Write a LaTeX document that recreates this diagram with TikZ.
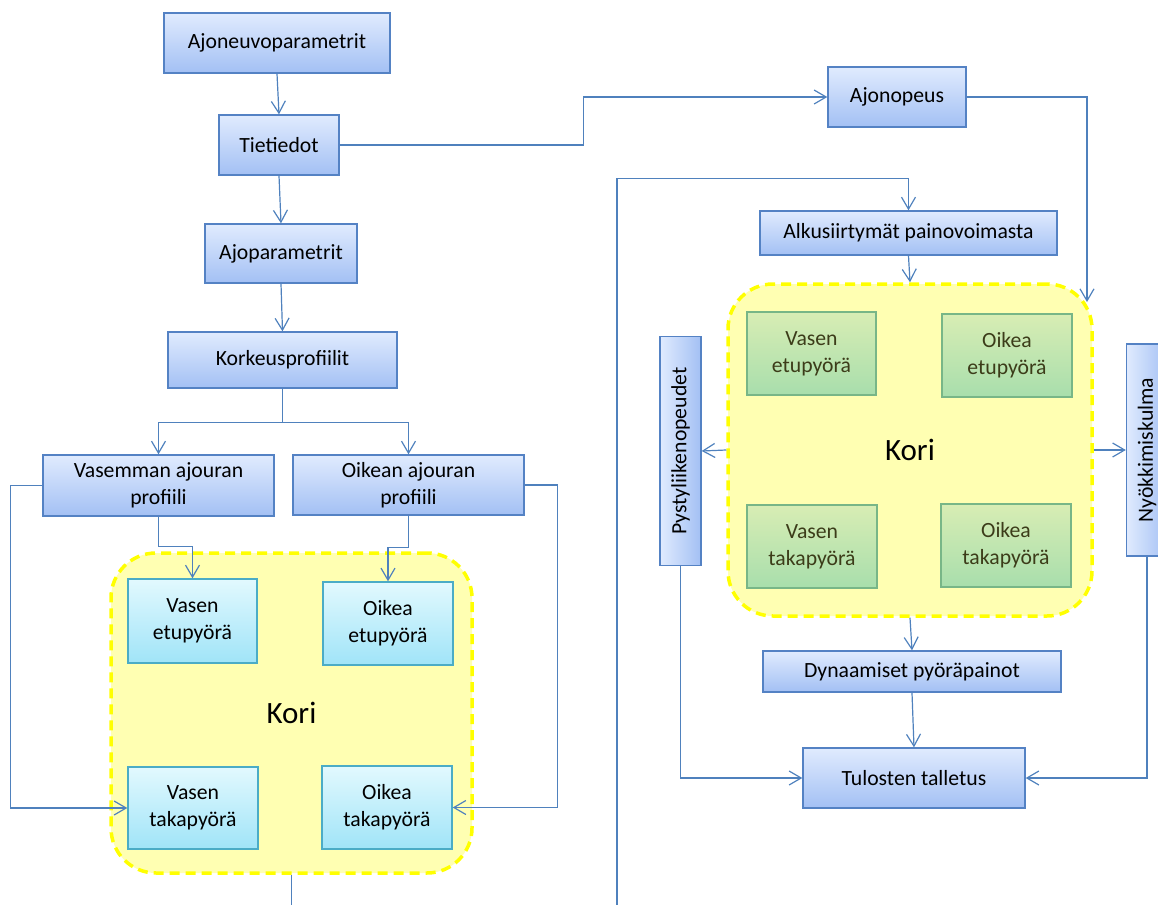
\documentclass[tikz,border=0pt]{standalone}
\usepackage{fontspec}
\setmainfont{Carlito}
\usepackage{graphicx}
\usetikzlibrary{arrows.meta,calc}
\definecolor{lnblue}{RGB}{79,129,189}
\definecolor{bdblue}{RGB}{84,130,196}
\definecolor{bltop}{RGB}{224,235,254}
\definecolor{blbot}{RGB}{163,192,244}
\definecolor{cybd}{RGB}{75,172,198}
\definecolor{cytop}{RGB}{226,249,254}
\definecolor{cybot}{RGB}{160,228,248}
\definecolor{grbd}{RGB}{120,182,135}
\definecolor{grtop}{RGB}{216,237,180}
\definecolor{grbot}{RGB}{168,222,172}
\definecolor{grtext}{RGB}{60,60,25}
\definecolor{yelfill}{RGB}{255,255,178}
\definecolor{yelline}{RGB}{255,255,0}
\newcommand\mainfs{\fontsize{10.85}{13.3}\selectfont}
\newcommand\korifs{\fontsize{15.5}{18}\selectfont}
\begin{document}
\begin{tikzpicture}[x=0.5pt,y=-0.5pt,
  sz/.style 2 args={minimum width=#1*0.5pt,minimum height=#2*0.5pt},
  conn/.style={draw=lnblue,line width=0.6pt},
  arr/.style={conn,-{Straight Barb[length=6pt,width=7pt,line width=0.6pt]}},
  boxbase/.style={inner sep=0pt,align=center,font=\mainfs,line width=0.7pt},
  bluebox/.style={boxbase,draw=bdblue,top color=bltop,bottom color=blbot},
  vbox/.style={boxbase,draw=bdblue,left color=bltop,right color=blbot},
  cyanbox/.style={boxbase,draw=cybd,top color=cytop,bottom color=cybot},
  greenbox/.style={boxbase,draw=grbd,top color=grtop,bottom color=grbot,text=grtext},
  korizone/.style={draw=yelline,fill=yelfill,line width=1.75pt,dash pattern=on 5pt off 3pt,rounded corners=22.5pt,inner sep=0pt,font=\korifs}
]
\useasboundingbox (0,0) rectangle (1158,905);

% yellow zones
\node[korizone,sz={361}{320}] (kl) at (291.5,713) {Kori};
\node[korizone,sz={364}{332}] (kr) at (910,450) {Kori};

% left column
\node[bluebox,sz={226}{60}] (anp) at (277,43) {Ajoneuvoparametrit};
\node[bluebox,sz={120}{60}] (tie) at (279,145) {Tietiedot};
\node[bluebox,sz={152}{59}] (ajp) at (281,253.5) {Ajoparametrit};
\node[bluebox,sz={229}{56}] (kor) at (282.5,360) {Korkeusprofiilit};
\node[bluebox,sz={231}{61}] (vap) at (158.5,485.5) {Vasemman ajouran\\profiili};
\node[bluebox,sz={231}{60}] (oap) at (408.5,485) {Oikean ajouran\\profiili};

\node[cyanbox,sz={129}{84}] (vet) at (192.5,621) {Vasen\\etupyörä};
\node[cyanbox,sz={130}{83}] (oet) at (388,623.5) {Oikea\\etupyörä};
\node[cyanbox,sz={130}{82}] (vtk) at (193,808) {Vasen\\takapyörä};
\node[cyanbox,sz={130}{83}] (otk) at (387,807.5) {Oikea\\takapyörä};

% right column
\node[bluebox,sz={138}{60}] (ajo) at (897,97) {Ajonopeus};
\node[bluebox,sz={297}{44}] (alk) at (908.5,233) {Alkusiirtymät painovoimasta};
\node[greenbox,sz={129}{83}] (gvet) at (811.5,353.5) {Vasen\\etupyörä};
\node[greenbox,sz={130}{83}] (goet) at (1007,355.5) {Oikea\\etupyörä};
\node[greenbox,sz={130}{83}] (gvtk) at (812,546.5) {Vasen\\takapyörä};
\node[greenbox,sz={130}{83}] (gotk) at (1006,545.5) {Oikea\\takapyörä};
\node[vbox,sz={41}{229}] (pys) at (680.5,451) {\rotatebox{90}{Pystyliikenopeudet}};
\node[vbox,sz={41}{212}] (nyo) at (1147,450) {\rotatebox{90}{Nyökkimiskulma}};
\node[bluebox,sz={298}{41}] (dyn) at (912,671.5) {Dynaamiset pyöräpainot};
\node[bluebox,sz={222}{60}] (tul) at (914,778) {Tulosten talletus};

\coordinate (lb) at (291.5,905);
\coordinate (rb) at (617,905);
\coordinate (ajoin) at (1087,302);

% connectors left
\draw[arr] (anp.south) -- (tie.north);
\draw[arr] (tie.south) -- (ajp.north);
\draw[arr] (ajp.south) -- (kor.north);
\draw[arr] (kor.south) -- ++(0,34) -| (vap.north);
\draw[arr] (kor.south) -- ++(0,34) -| (oap.north);
\draw[arr] (vap.south) |- ($(vet.north)+(0,-32)$) -- (vet.north);
\draw[arr] (oap.south) |- ($(oet.north)+(0,-34)$) -- (oet.north);
\draw[arr] (vap.west) -- ++(-32,0) |- (vtk.west);
\draw[arr] (oap.east) -- ++(33,0) |- (otk.east);
\draw[conn] (kl.south) -- (lb);

% connectors right
\draw[arr] (tie.east) -- ++(244,0) |- (ajo.west);
\draw[arr] (ajo.east) -| (ajoin);
\draw[arr] (rb) |- ($(alk.north)+(0,-32)$) -- (alk.north);
\draw[arr] (alk.south) -- (kr.north);
\draw[arr] (kr.west) -- (pys.east);
\draw[arr] (kr.east) -- (nyo.west);
\draw[arr] (kr.south) -- (dyn.north);
\draw[arr] (dyn.south) -- (tul.north);
\draw[arr] (pys.south) |- (tul.west);
\draw[arr] (nyo.south) |- (tul.east);
\end{tikzpicture}
\end{document}
